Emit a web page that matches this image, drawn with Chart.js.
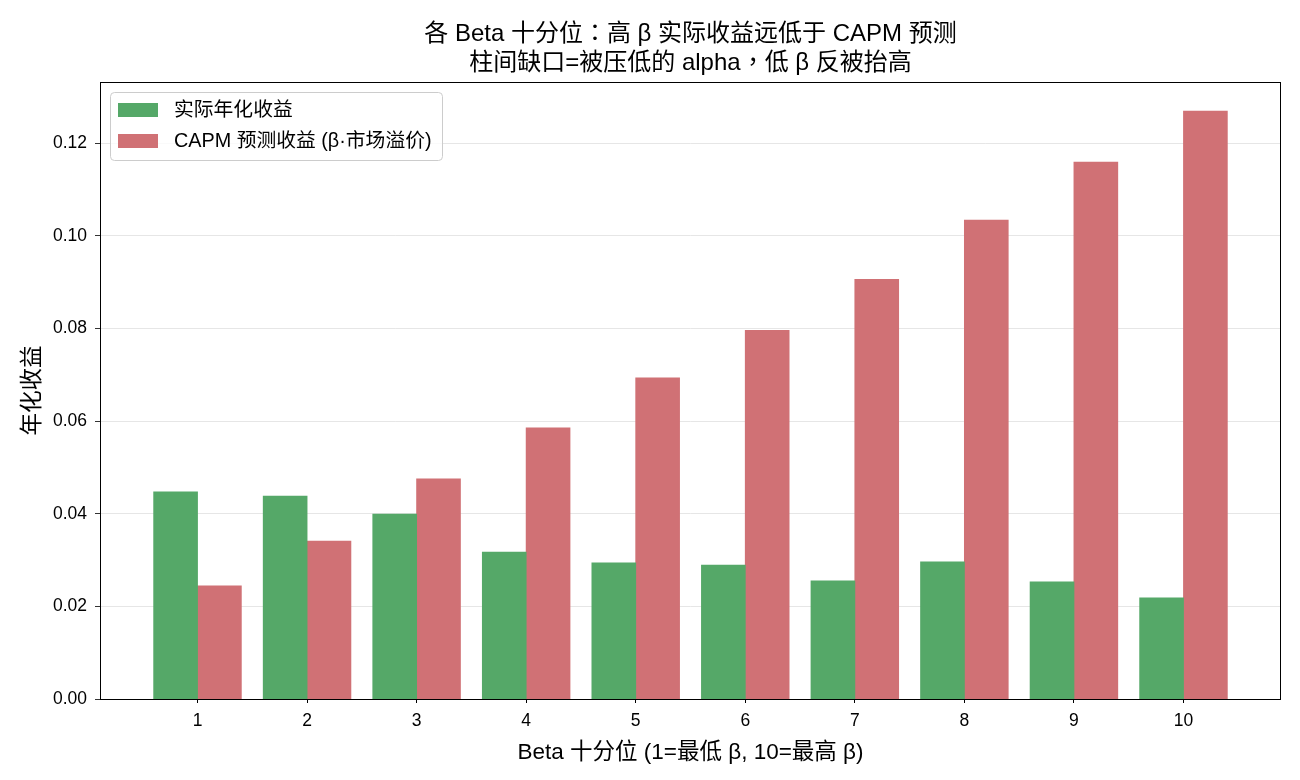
<!DOCTYPE html>
<html>
<head>
<meta charset="utf-8">
<script src="https://cdn.jsdelivr.net/npm/chart.js@4.4.1/dist/chart.umd.min.js"></script>
<style>
  body { margin: 0; background: #fff; }
  @font-face {
    font-family: 'CjkPunct';
    src: local('Noto Sans CJK TC Regular'), local('NotoSansCJKtc-Regular'), local('Noto Sans CJK TC');
    unicode-range: U+FF0C, U+FF1A;
  }
</style>
</head>
<body>
<canvas id="chart" width="1300" height="780"></canvas>
<script>
var deciles = [1, 2, 3, 4, 5, 6, 7, 8, 9, 10];
var actualRet = [0.0447, 0.0438, 0.0399, 0.0317, 0.0294, 0.0289, 0.0255, 0.0296, 0.0253, 0.0218];
var capmRet = [0.0244, 0.0341, 0.0475, 0.0585, 0.0693, 0.0796, 0.0906, 0.1034, 0.1159, 0.1269];
var yTicks = [0, 0.02, 0.04, 0.06, 0.08, 0.10, 0.12];
var seriesNames = ['实际年化收益', 'CAPM 预测收益 (β·市场溢价)'];

var FONT = '"Liberation Sans", CjkPunct, "Noto Sans CJK SC", sans-serif';

// frame around plot + legend box drawn inside the plot (matplotlib style)
var framePlugin = {
    id: 'frame',
    afterDatasetsDraw: function(chart) {
        var ctx = chart.ctx, a = chart.chartArea;
        ctx.save();
        ctx.strokeStyle = '#000';
        ctx.lineWidth = 1;
        ctx.strokeRect(a.left + 0.5, a.top + 0.5, a.right - a.left - 1, a.bottom - a.top);

        // legend
        var x = a.left + 10, y = a.top + 10, w = 332, h = 68, r = 4;
        ctx.beginPath();
        ctx.roundRect(x + 0.5, y + 0.5, w, h, r);
        ctx.fillStyle = 'rgba(255,255,255,0.8)';
        ctx.fill();
        ctx.strokeStyle = '#cccccc';
        ctx.stroke();
        ctx.font = '19.8px ' + FONT;
        ctx.textBaseline = 'middle';
        ctx.textAlign = 'left';
        chart.data.datasets.forEach(function(ds, i) {
            var cy = y + 18 + i * 31;
            ctx.fillStyle = ds.backgroundColor;
            ctx.fillRect(x + 8, cy - 7, 40, 14);
            ctx.fillStyle = '#000';
            ctx.fillText(ds.label, x + 64, cy + 1);
        });
        ctx.restore();
    }
};

function draw() {
    var ctx = document.getElementById('chart').getContext('2d');
    var myChart = new Chart(ctx, {
        type: 'bar',
        data: {
            datasets: [{
                label: seriesNames[0],
                data: deciles.map(function(d, i) { return { x: d, y: actualRet[i] }; }),
                backgroundColor: '#55A868',
                borderWidth: 0,
                inflateAmount: 0.4,
                categoryPercentage: 0.8,
                barPercentage: 1.0
            }, {
                label: seriesNames[1],
                data: deciles.map(function(d, i) { return { x: d, y: capmRet[i] }; }),
                backgroundColor: '#D07175',
                borderWidth: 0,
                inflateAmount: 0.4,
                categoryPercentage: 0.8,
                barPercentage: 1.0
            }]
        },
        options: {
            responsive: false,
            animation: false,
            layout: { padding: { left: 0, right: 19, top: 0, bottom: 0 } },
            plugins: {
                legend: { display: false },
                tooltip: { enabled: false },
                title: {
                    display: true,
                    fullSize: false,
                    text: ['各 Beta 十分位：高 β 实际收益远低于 CAPM 预测', '柱间缺口=被压低的 alpha，低 β 反被抬高'],
                    color: '#000',
                    font: { family: FONT, size: 24, weight: 'normal', lineHeight: 29 / 24 },
                    padding: { top: 19.5, bottom: 4.5 }
                }
            },
            scales: {
                x: {
                    type: 'linear',
                    min: 0.11,
                    max: 10.89,
                    offset: false,
                    afterBuildTicks: function(scale) {
                        scale.ticks = deciles.map(function(v) { return { value: v }; });
                    },
                    afterFit: function(scale) { scale.height = 81; },
                    border: { display: false },
                    grid: {
                        offset: false,
                        drawOnChartArea: false,
                        tickLength: 4,
                        tickColor: '#000'
                    },
                    ticks: {
                        color: '#000',
                        padding: 8,
                        font: { family: FONT, size: 17.5 },
                        callback: function(v) { return String(v); }
                    },
                    title: {
                        display: true,
                        text: 'Beta 十分位 (1=最低 β, 10=最高 β)',
                        color: '#000',
                        font: { family: FONT, size: 22.5 },
                        padding: { top: 2, bottom: 14 }
                    }
                },
                y: {
                    min: 0,
                    max: 0.1332,
                    afterBuildTicks: function(scale) {
                        scale.ticks = yTicks.map(function(v) { return { value: v }; });
                    },
                    afterFit: function(scale) { scale.width = 100; },
                    border: { display: false },
                    grid: {
                        color: '#e0e0e0',
                        lineWidth: 0.8,
                        tickLength: 5,
                        tickColor: '#000'
                    },
                    ticks: {
                        color: '#000',
                        padding: 8,
                        font: { family: FONT, size: 17.5 },
                        callback: function(v) { return v.toFixed(2); }
                    },
                    title: {
                        display: true,
                        text: '年化收益',
                        color: '#000',
                        font: { family: FONT, size: 22.5 },
                        padding: { top: 19, bottom: 0 }
                    }
                }
            }
        },
        plugins: [framePlugin]
    });
}

Promise.all([
    document.fonts.load('23px CjkPunct', '：，'),
    document.fonts.load('23px "Noto Sans CJK SC"', '年化收益'),
    document.fonts.load('23px "Liberation Sans"', 'Beta')
]).then(draw, draw);
</script>
</body>
</html>
